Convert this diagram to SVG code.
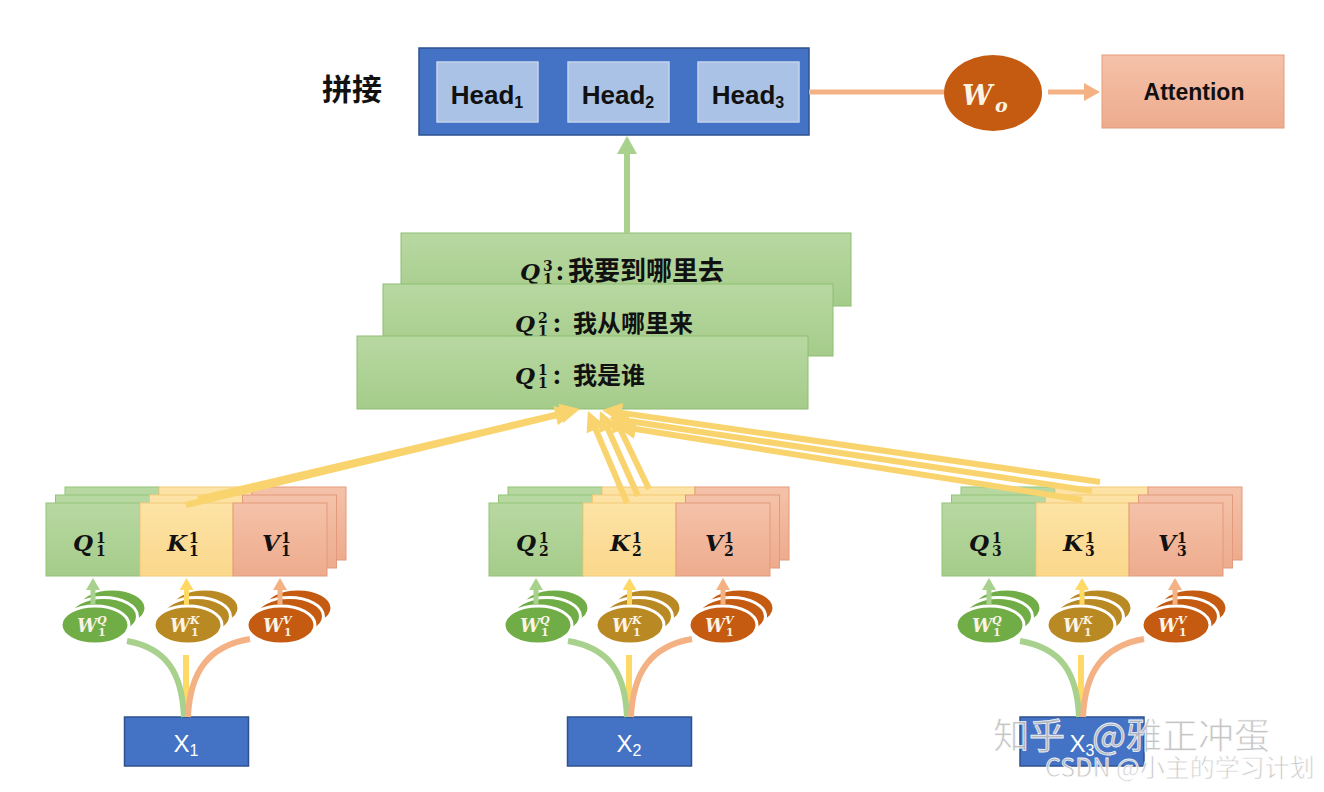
<svg xmlns="http://www.w3.org/2000/svg" width="1324" height="792" viewBox="0 0 1324 792">
<defs>
<linearGradient id="gGreen" x1="0" y1="0" x2="0" y2="1"><stop offset="0" stop-color="#B8D8A2"/><stop offset="1" stop-color="#A5CC8A"/></linearGradient>
<linearGradient id="gYellow" x1="0" y1="0" x2="0" y2="1"><stop offset="0" stop-color="#FDE3A6"/><stop offset="1" stop-color="#FAD78B"/></linearGradient>
<linearGradient id="gOrange" x1="0" y1="0" x2="0" y2="1"><stop offset="0" stop-color="#F4C2A9"/><stop offset="1" stop-color="#EEAB8D"/></linearGradient>
<marker id="mY" markerUnits="userSpaceOnUse" markerWidth="20" markerHeight="20" refX="2" refY="10" orient="auto"><path d="M0,0 L20,10 L0,20 z" fill="#F9D46E"/></marker>
<marker id="mG" markerUnits="userSpaceOnUse" markerWidth="20" markerHeight="20" refX="1" refY="10" orient="auto"><path d="M0,0 L18,10 L0,20 z" fill="#A9D18E"/></marker>
<marker id="mO" markerUnits="userSpaceOnUse" markerWidth="18" markerHeight="18" refX="1" refY="9" orient="auto"><path d="M0,0 L16,9 L0,18 z" fill="#F4B183"/></marker>
<marker id="sG" markerUnits="userSpaceOnUse" markerWidth="14" markerHeight="14" refX="1" refY="7" orient="auto"><path d="M0,0 L12,7 L0,14 z" fill="#A9D18E"/></marker>
<marker id="sY" markerUnits="userSpaceOnUse" markerWidth="14" markerHeight="14" refX="1" refY="7" orient="auto"><path d="M0,0 L12,7 L0,14 z" fill="#FFD966"/></marker>
<marker id="sO" markerUnits="userSpaceOnUse" markerWidth="14" markerHeight="14" refX="1" refY="7" orient="auto"><path d="M0,0 L12,7 L0,14 z" fill="#F4B183"/></marker>
<g id="row">
<rect x="0" y="0" width="94" height="73" class="bq"/>
<rect x="94" y="0" width="93" height="73" class="bk"/>
<rect x="187" y="0" width="94" height="73" class="bv"/>
</g>
<style>
.bq{fill:url(#gGreen);stroke:#93C379;stroke-width:1}
.bk{fill:url(#gYellow);stroke:#F2CA78;stroke-width:1}
.bv{fill:url(#gOrange);stroke:#E3997B;stroke-width:1}
.qs{fill:url(#gGreen);stroke:#8EBD72;stroke-width:1}
.blue{fill:#4472C4;stroke:#2F528F;stroke-width:1.5}
.head{fill:#A9C2E6;stroke:#C3D4EE;stroke-width:1.5}
.sans{font-family:"Liberation Sans",Arial,sans-serif}
.cjk{font-family:"Noto Sans CJK SC","Noto Sans",sans-serif;font-weight:bold}
.m{font-family:"DejaVu Serif","Liberation Serif",serif;font-style:italic;font-weight:bold}
.d{font-family:"DejaVu Serif","Liberation Serif",serif;font-weight:bold}
.m24{font-size:23px}
.m14{font-size:14px}
.ew{fill:#FBF3E4}
.eq{fill:#70AD47;stroke:#fff;stroke-width:3}
.ek{fill:#B98A24;stroke:#fff;stroke-width:3}
.ev{fill:#C55A11;stroke:#fff;stroke-width:3}
.cg{fill:none;stroke:#A9D18E;stroke-width:6}
.cy{fill:none;stroke:#FFD966;stroke-width:6}
.co{fill:none;stroke:#F4B183;stroke-width:6}
.ya{fill:none;stroke:#F9D46E;stroke-width:6;marker-end:url(#mY)}
.wm{font-family:"Noto Sans CJK SC","Liberation Sans",sans-serif;fill:#BEBEBE;stroke:#FFFFFF;stroke-width:0.8;opacity:0.9}
</style>
</defs>
<rect width="1324" height="792" fill="#FFFFFF"/>

<g id="label-concat">
<text x="322" y="100" class="cjk" font-size="30" fill="#111">拼接</text>
</g>

<g id="heads">
<rect x="419" y="48" width="390" height="87" class="blue"/>
<rect x="437" y="62" width="101" height="60" class="head"/>
<rect x="568" y="62" width="101" height="60" class="head"/>
<rect x="698" y="62" width="101" height="60" class="head"/>
<text x="487" y="104" class="sans" font-size="26" font-weight="bold" text-anchor="middle" fill="#111">Head<tspan font-size="16" dy="4">1</tspan></text>
<text x="618" y="104" class="sans" font-size="26" font-weight="bold" text-anchor="middle" fill="#111">Head<tspan font-size="16" dy="4">2</tspan></text>
<text x="748" y="104" class="sans" font-size="26" font-weight="bold" text-anchor="middle" fill="#111">Head<tspan font-size="16" dy="4">3</tspan></text>
</g>

<g id="wo">
<ellipse cx="993" cy="93" rx="49" ry="38" fill="#C55A11"/>
<text x="962" y="105" class="m" font-size="27" fill="#FBF3E4">W</text>
<text x="995" y="112" class="m" font-size="19" fill="#FBF3E4">o</text>
</g>

<g id="attention">
<rect x="1102" y="55" width="182" height="73" fill="url(#gOrange)" stroke="#E59B7C" stroke-width="1"/>
<text x="1194" y="100" class="sans" font-size="23" font-weight="bold" text-anchor="middle" fill="#111">Attention</text>
</g>

<g id="qstack">
<rect x="401" y="233" width="450" height="73" class="qs"/>
<text x="520" y="280" class="m m24" fill="#111">Q</text>
<text x="543" y="271" class="d m14" fill="#111">3</text>
<text x="543" y="284" class="d m14" fill="#111">1</text>
<text x="560" y="280" class="cjk" font-size="24" text-anchor="middle" fill="#111">:</text>
<text x="568" y="280" class="cjk" font-size="26" fill="#111">我要到哪里去</text>

<rect x="383" y="284" width="450" height="72" class="qs"/>
<text x="515" y="332" class="m m24" fill="#111">Q</text>
<text x="538" y="323" class="d m14" fill="#111">2</text>
<text x="538" y="336" class="d m14" fill="#111">1</text>
<text x="557" y="332" class="cjk" font-size="24" text-anchor="middle" fill="#111">:</text>
<text x="573" y="332" class="cjk" font-size="24" fill="#111">我从哪里来</text>

<rect x="357" y="336" width="451" height="73" class="qs"/>
<text x="515" y="384" class="m m24" fill="#111">Q</text>
<text x="538" y="375" class="d m14" fill="#111">1</text>
<text x="538" y="388" class="d m14" fill="#111">1</text>
<text x="557" y="384" class="cjk" font-size="24" text-anchor="middle" fill="#111">:</text>
<text x="573" y="384" class="cjk" font-size="24" fill="#111">我是谁</text>
</g>

<g id="qkv1" transform="translate(46,503)">
<use href="#row" x="19" y="-16"/>
<use href="#row" x="9.5" y="-8"/>
<use href="#row" x="0" y="0"/>
<text x="27" y="48" class="m m24" fill="#111">Q</text><text x="50" y="40" class="d m14" fill="#111">1</text><text x="50" y="53" class="d m14" fill="#111">1</text>
<text x="121" y="48" class="m m24" fill="#111">K</text><text x="143" y="40" class="d m14" fill="#111">1</text><text x="143" y="53" class="d m14" fill="#111">1</text>
<text x="216" y="48" class="m m24" fill="#111">V</text><text x="235" y="40" class="d m14" fill="#111">1</text><text x="235" y="53" class="d m14" fill="#111">1</text>
</g>

<g id="qkv2" transform="translate(489,503)">
<use href="#row" x="19" y="-16"/>
<use href="#row" x="9.5" y="-8"/>
<use href="#row" x="0" y="0"/>
<text x="27" y="48" class="m m24" fill="#111">Q</text><text x="50" y="40" class="d m14" fill="#111">1</text><text x="50" y="53" class="d m14" fill="#111">2</text>
<text x="121" y="48" class="m m24" fill="#111">K</text><text x="143" y="40" class="d m14" fill="#111">1</text><text x="143" y="53" class="d m14" fill="#111">2</text>
<text x="216" y="48" class="m m24" fill="#111">V</text><text x="235" y="40" class="d m14" fill="#111">1</text><text x="235" y="53" class="d m14" fill="#111">2</text>
</g>

<g id="qkv3" transform="translate(942,503)">
<use href="#row" x="19" y="-16"/>
<use href="#row" x="9.5" y="-8"/>
<use href="#row" x="0" y="0"/>
<text x="27" y="48" class="m m24" fill="#111">Q</text><text x="50" y="40" class="d m14" fill="#111">1</text><text x="50" y="53" class="d m14" fill="#111">3</text>
<text x="121" y="48" class="m m24" fill="#111">K</text><text x="143" y="40" class="d m14" fill="#111">1</text><text x="143" y="53" class="d m14" fill="#111">3</text>
<text x="216" y="48" class="m m24" fill="#111">V</text><text x="235" y="40" class="d m14" fill="#111">1</text><text x="235" y="53" class="d m14" fill="#111">3</text>
</g>

<g id="wq1" transform="translate(95,625)">
<ellipse cx="17" cy="-17" rx="34" ry="19" class="eq"/><ellipse cx="8.5" cy="-8.5" rx="34" ry="19" class="eq"/><ellipse cx="0" cy="0" rx="34" ry="19" class="eq"/>
<text x="-18" y="7" class="m ew" font-size="18">W</text><text x="2" y="-1" class="m ew" font-size="11">Q</text><text x="3" y="11" class="d ew" font-size="11">1</text>
</g>
<g id="wk1" transform="translate(188,625)">
<ellipse cx="17" cy="-17" rx="34" ry="19" class="ek"/><ellipse cx="8.5" cy="-8.5" rx="34" ry="19" class="ek"/><ellipse cx="0" cy="0" rx="34" ry="19" class="ek"/>
<text x="-18" y="7" class="m ew" font-size="18">W</text><text x="2" y="-1" class="m ew" font-size="11">K</text><text x="3" y="11" class="d ew" font-size="11">1</text>
</g>
<g id="wv1" transform="translate(281,625)">
<ellipse cx="17" cy="-17" rx="34" ry="19" class="ev"/><ellipse cx="8.5" cy="-8.5" rx="34" ry="19" class="ev"/><ellipse cx="0" cy="0" rx="34" ry="19" class="ev"/>
<text x="-18" y="7" class="m ew" font-size="18">W</text><text x="2" y="-1" class="m ew" font-size="11">V</text><text x="3" y="11" class="d ew" font-size="11">1</text>
</g>

<g id="wq2" transform="translate(538,625)">
<ellipse cx="17" cy="-17" rx="34" ry="19" class="eq"/><ellipse cx="8.5" cy="-8.5" rx="34" ry="19" class="eq"/><ellipse cx="0" cy="0" rx="34" ry="19" class="eq"/>
<text x="-18" y="7" class="m ew" font-size="18">W</text><text x="2" y="-1" class="m ew" font-size="11">Q</text><text x="3" y="11" class="d ew" font-size="11">1</text>
</g>
<g id="wk2" transform="translate(630,625)">
<ellipse cx="17" cy="-17" rx="34" ry="19" class="ek"/><ellipse cx="8.5" cy="-8.5" rx="34" ry="19" class="ek"/><ellipse cx="0" cy="0" rx="34" ry="19" class="ek"/>
<text x="-18" y="7" class="m ew" font-size="18">W</text><text x="2" y="-1" class="m ew" font-size="11">K</text><text x="3" y="11" class="d ew" font-size="11">1</text>
</g>
<g id="wv2" transform="translate(723,625)">
<ellipse cx="17" cy="-17" rx="34" ry="19" class="ev"/><ellipse cx="8.5" cy="-8.5" rx="34" ry="19" class="ev"/><ellipse cx="0" cy="0" rx="34" ry="19" class="ev"/>
<text x="-18" y="7" class="m ew" font-size="18">W</text><text x="2" y="-1" class="m ew" font-size="11">V</text><text x="3" y="11" class="d ew" font-size="11">1</text>
</g>

<g id="wq3" transform="translate(990,625)">
<ellipse cx="17" cy="-17" rx="34" ry="19" class="eq"/><ellipse cx="8.5" cy="-8.5" rx="34" ry="19" class="eq"/><ellipse cx="0" cy="0" rx="34" ry="19" class="eq"/>
<text x="-18" y="7" class="m ew" font-size="18">W</text><text x="2" y="-1" class="m ew" font-size="11">Q</text><text x="3" y="11" class="d ew" font-size="11">1</text>
</g>
<g id="wk3" transform="translate(1081,625)">
<ellipse cx="17" cy="-17" rx="34" ry="19" class="ek"/><ellipse cx="8.5" cy="-8.5" rx="34" ry="19" class="ek"/><ellipse cx="0" cy="0" rx="34" ry="19" class="ek"/>
<text x="-18" y="7" class="m ew" font-size="18">W</text><text x="2" y="-1" class="m ew" font-size="11">K</text><text x="3" y="11" class="d ew" font-size="11">1</text>
</g>
<g id="wv3" transform="translate(1176,625)">
<ellipse cx="17" cy="-17" rx="34" ry="19" class="ev"/><ellipse cx="8.5" cy="-8.5" rx="34" ry="19" class="ev"/><ellipse cx="0" cy="0" rx="34" ry="19" class="ev"/>
<text x="-18" y="7" class="m ew" font-size="18">W</text><text x="2" y="-1" class="m ew" font-size="11">V</text><text x="3" y="11" class="d ew" font-size="11">1</text>
</g>

<g id="x1">
<rect x="124.5" y="717" width="124" height="49" class="blue"/>
<text x="186" y="752" class="sans" font-size="24" text-anchor="middle" fill="#fff">X<tspan font-size="16" dy="4">1</tspan></text>
</g>
<g id="x2">
<rect x="567.5" y="717" width="124" height="49" class="blue"/>
<text x="629" y="752" class="sans" font-size="24" text-anchor="middle" fill="#fff">X<tspan font-size="16" dy="4">2</tspan></text>
</g>
<g id="x3">
<rect x="1020" y="717" width="124" height="49" class="blue"/>
<text x="1082" y="752" class="sans" font-size="24" text-anchor="middle" fill="#fff">X<tspan font-size="16" dy="4">3</tspan></text>
</g>

<g id="connectors">
<line x1="809" y1="92" x2="944" y2="92" stroke="#F4B183" stroke-width="5"/>
<line x1="1048" y1="92" x2="1085" y2="92" stroke="#F4B183" stroke-width="5" marker-end="url(#mO)"/>
<line x1="627" y1="233" x2="627" y2="153" stroke="#A9D18E" stroke-width="6" marker-end="url(#mG)"/>

<line x1="186" y1="505" x2="557.5" y2="415.2" class="ya"/>
<line x1="198" y1="499" x2="562.5" y2="413.1" class="ya"/>
<line x1="627" y1="503" x2="595" y2="427.6" class="ya"/>
<line x1="638" y1="496" x2="607.3" y2="427.4" class="ya"/>
<line x1="649" y1="489" x2="619.8" y2="428.2" class="ya"/>
<line x1="1100" y1="482" x2="619.8" y2="412.6" class="ya"/>
<line x1="1092" y1="491" x2="626.8" y2="420.7" class="ya"/>
<line x1="1082" y1="500" x2="633.8" y2="428.8" class="ya"/>

<line x1="93" y1="605" x2="93" y2="589" stroke="#A9D18E" stroke-width="5" marker-end="url(#sG)"/>
<line x1="186.5" y1="605" x2="186.5" y2="589" stroke="#FFD966" stroke-width="5" marker-end="url(#sY)"/>
<line x1="280" y1="605" x2="280" y2="589" stroke="#F4B183" stroke-width="5" marker-end="url(#sO)"/>
<line x1="186" y1="717" x2="186" y2="655" class="cy"/>
<path d="M184,717 C182,672 166,648 127,641" class="cg"/>
<path d="M188,717 C190,672 208,646 250,639" class="co"/>

<line x1="536" y1="605" x2="536" y2="589" stroke="#A9D18E" stroke-width="5" marker-end="url(#sG)"/>
<line x1="629.5" y1="605" x2="629.5" y2="589" stroke="#FFD966" stroke-width="5" marker-end="url(#sY)"/>
<line x1="723" y1="605" x2="723" y2="589" stroke="#F4B183" stroke-width="5" marker-end="url(#sO)"/>
<line x1="629" y1="717" x2="629" y2="655" class="cy"/>
<path d="M627,717 C625,672 609,648 568,641" class="cg"/>
<path d="M631,717 C633,672 651,646 692,639" class="co"/>

<line x1="989" y1="605" x2="989" y2="589" stroke="#A9D18E" stroke-width="5" marker-end="url(#sG)"/>
<line x1="1082" y1="605" x2="1082" y2="589" stroke="#FFD966" stroke-width="5" marker-end="url(#sY)"/>
<line x1="1175" y1="605" x2="1175" y2="589" stroke="#F4B183" stroke-width="5" marker-end="url(#sO)"/>
<line x1="1081" y1="717" x2="1081" y2="655" class="cy"/>
<path d="M1079,717 C1077,672 1061,648 1020,641" class="cg"/>
<path d="M1083,717 C1085,672 1103,646 1144,639" class="co"/>
</g>

<g id="watermark">
<text x="993" y="749" class="wm" font-size="36">知乎</text>
<text x="1092" y="749" class="wm" font-size="36">@雅正冲蛋</text>
<text x="1045" y="777" class="wm" font-size="25" fill="#A8A8A8">CSDN @小主的学习计划</text>
</g>
</svg>
